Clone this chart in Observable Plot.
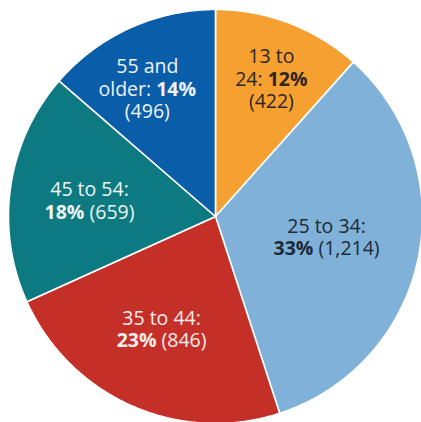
<!DOCTYPE html>
<html><head><meta charset="utf-8">
<script src="https://cdn.jsdelivr.net/npm/d3@7"></script>
<script src="https://cdn.jsdelivr.net/npm/@observablehq/plot@0.6"></script>
<style>body{margin:0;background:#fff}</style>
</head><body><div id="chart"></div>
<script>
// Data
const categories = ["13 to 24", "25 to 34", "35 to 44", "45 to 54", "55 and older"];
const counts = [422, 1214, 846, 659, 496];
const percents = [12, 33, 23, 18, 14];
// Label text lines ({...} marks bold)
const labelLines = [
  ["13 to", "24: {12%}", "(422)"],
  ["25 to 34:", "{33%} (1,214)"],
  ["35 to 44:", "{23%} (846)"],
  ["45 to 54:", "{18%} (659)"],
  ["55 and", "older: {14%}", "(496)"]
];
// Styles
const sliceColors = ["#F6A031", "#80B1D9", "#C42F28", "#0C7A80", "#0A5DA8"];
const textColors = ["#2b2620", "#1c2937", "#fbeeee", "#eef6f6", "#eef3fa"];
// Label layout: radius fraction and angle nudge (degrees)
const labelRadius = [0.715, 0.546, 0.605, 0.613, 0.696];
const labelNudge = [1.3, -1.1, 1.7, -1.5, -3.7];

const cx = 215, cy = 216, R = 207, lineGap = 22.5, fontSize = 19.5;

const total = d3.sum(counts);
let acc = 0;
const slices = categories.map((c, i) => {
  const a0 = acc / total * 2 * Math.PI;
  acc += counts[i];
  const a1 = acc / total * 2 * Math.PI;
  return {c, i, a0, a1};
});
const pts = [];
for (const s of slices) {
  pts.push({c: s.c, color: sliceColors[s.i], x: 0, y: 0});
  const n = Math.ceil((s.a1 - s.a0) / (Math.PI / 360));
  for (let k = 0; k <= n; k++) {
    const a = s.a0 + (s.a1 - s.a0) * k / n;
    pts.push({c: s.c, color: sliceColors[s.i], x: Math.sin(a), y: Math.cos(a)});
  }
  pts.push({c: s.c, color: sliceColors[s.i], x: 0, y: 0});
}
const lines = [];
for (const s of slices) {
  const a = (s.a0 + s.a1) / 2 + labelNudge[s.i] * Math.PI / 180;
  const r = labelRadius[s.i];
  const L = labelLines[s.i];
  L.forEach((t, k) => {
    const off = (k - (L.length - 1) / 2) * lineGap / R;
    lines.push({x: r * Math.sin(a), y: r * Math.cos(a) - off, text: t, color: textColors[s.i]});
  });
}

const chart = Plot.plot({
  width: 421,
  height: 422,
  margin: 0,
  style: {background: "#fff"},
  x: {domain: [-1, 1], range: [cx - R, cx + R], axis: null},
  y: {domain: [-1, 1], range: [cy + R, cy - R], axis: null},
  color: {type: "identity"},
  marks: [
    Plot.line(pts, {x: "x", y: "y", z: "c", fill: "color", stroke: "white", strokeWidth: 1.6, strokeLinejoin: "round", curve: "linear"}),
    Plot.text(lines, {x: "x", y: "y", text: "text", fill: "color", fontSize: fontSize, fontFamily: "Open Sans", textAnchor: "middle"})
  ]
});
document.getElementById("chart").appendChild(chart);

// Split lines with bold parts into separate side-by-side text pieces
chart.querySelectorAll("text").forEach(el => {
  const raw = el.textContent;
  if (!raw.includes("{")) return;
  const parts = raw.split(/(\{[^}]*\})/).filter(Boolean)
    .map(p => ({bold: p.startsWith("{"), t: p.startsWith("{") ? p.slice(1, -1) : p}));
  const clones = parts.map(p => {
    const c = el.cloneNode(false);
    c.textContent = p.t;
    c.setAttribute("text-anchor", "start");
    c.style.whiteSpace = "pre";
    if (p.bold) c.setAttribute("font-weight", "bold");
    el.parentNode.insertBefore(c, el);
    return c;
  });
  const widths = clones.map(c => c.getComputedTextLength());
  let off = -d3.sum(widths) / 2;
  clones.forEach((c, k) => {
    c.setAttribute("dx", off.toFixed(2));
    off += widths[k];
  });
  el.remove();
});
</script>
</body></html>
